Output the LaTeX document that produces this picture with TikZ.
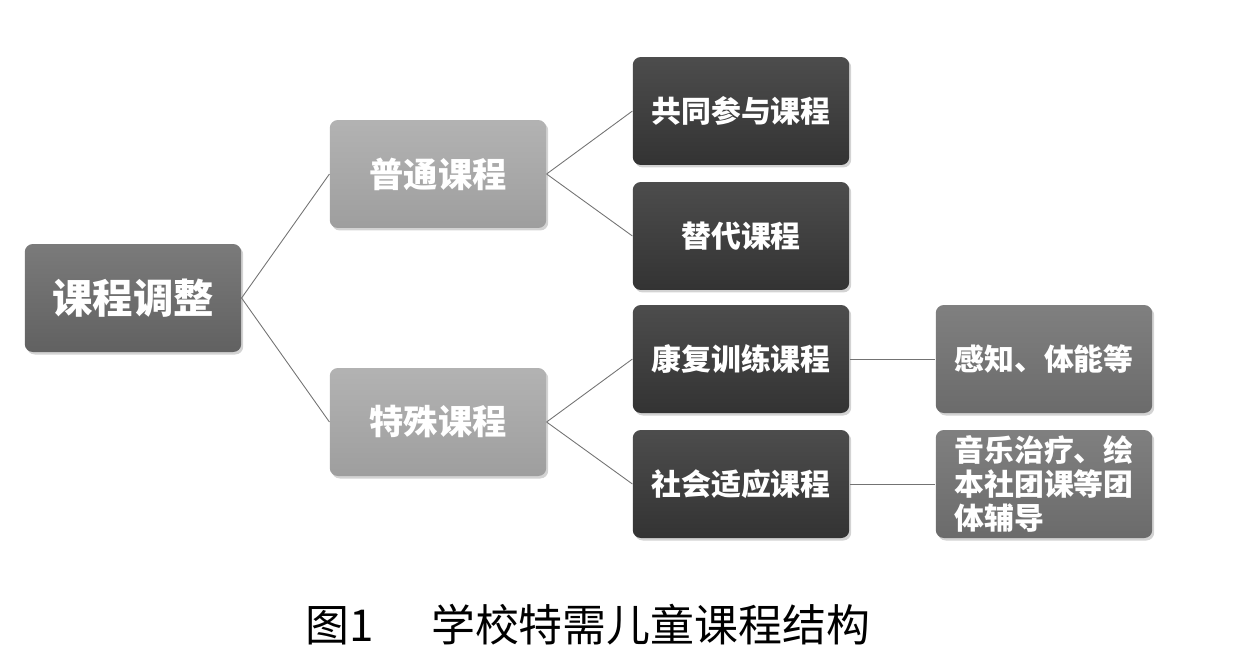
\documentclass[tikz,border=0pt]{standalone}
\usepackage{fontspec}
\setmainfont{Noto Sans CJK SC}
\usepackage{tikz}
\usetikzlibrary{shadows}

\begin{document}
\begin{tikzpicture}[x=0.02cm,y=-0.02cm,
% Style for all boxes
box style/.style={
rounded corners=1.6mm,
minimum width=4.33cm,
minimum height=2.16cm,
text=white,
drop shadow={opacity=0.35,shadow xshift=0.4mm,shadow yshift=-0.5mm}
},
% Styles for each level
root style/.style={box style,top color=black!52,bottom color=black!62,font=\bfseries\fontsize{23}{27}\selectfont},
mid style/.style={box style,top color=black!30,bottom color=black!38,font=\bfseries\fontsize{19.5}{23}\selectfont},
leaf style/.style={box style,top color=black!70,bottom color=black!80,font=\bfseries\fontsize{17}{20}\selectfont},
note style/.style={box style,top color=black!50,bottom color=black!58,font=\bfseries\fontsize{17}{19.6}\selectfont},
link style/.style={draw=black!55,line width=0.5pt}
]

\useasboundingbox (0,0) rectangle (1236,667);

% Root
\node[root style] (root) at (133,298) {课程调整};

% Second level
\node[mid style] (common) at (438,174) {普通课程};
\node[mid style] (special) at (438,422) {特殊课程};

% Third level
\node[leaf style] (joint) at (741,111) {共同参与课程};
\node[leaf style] (subst) at (741,236) {替代课程};
\node[leaf style] (rehab) at (741,359) {康复训练课程};
\node[leaf style] (social) at (741,484) {社会适应课程};

% Fourth level
\node[note style] (sense) at (1044,359) {感知、体能等};
\node[note style,align=left,inner ysep=0pt] (music) at (1044,484) {音乐治疗、绘\\本社团课等团\\体辅导};

% Connectors
\draw[link style] (root.east) -- (common.west);
\draw[link style] (root.east) -- (special.west);
\foreach \c in {joint,subst} {
\draw[link style] (common.east) -- (\c.west);
}
\foreach \c in {rehab,social} {
\draw[link style] (special.east) -- (\c.west);
}
\draw[link style] (rehab.east) -- (sense.west);
\draw[link style] (social.east) -- (music.west);

% Caption
\node[font=\fontsize{25}{28}\selectfont] (caption) at (588,625) {图1\hspace{1.3em}学校特需儿童课程结构};

\end{tikzpicture}
\end{document}
